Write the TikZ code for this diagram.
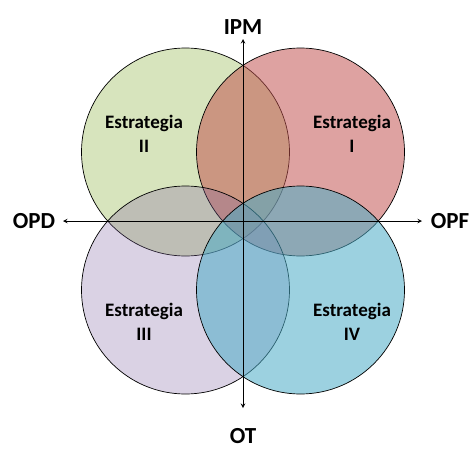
\documentclass[tikz,border=0pt]{standalone}
\usepackage{fontspec}
\setmainfont{Carlito}
\usetikzlibrary{calc,arrows}
\usepackage{xcolor}
\definecolor{verdeEst}{HTML}{9BBB59}
\definecolor{rojoEst}{HTML}{C0504D}
\definecolor{moradoEst}{HTML}{8064A2}
\definecolor{azulEst}{HTML}{4BACC6}
\tikzset{
	cuadrante/.style={draw=black, line width=0.7pt},
	eje/.style={line width=1pt},
	estrategia/.style={font=\fontsize{19}{24}\selectfont\bfseries, align=center},
	ejelabel/.style={font=\fontsize{23}{27}\selectfont\bfseries, inner sep=0.5pt}
}

\begin{document}
\begin{tikzpicture}[x=1pt,y=-1pt]
			\useasboundingbox (0,0) rectangle (472,450);
			\def\radio{104pt};
			\draw[cuadrante, fill=verdeEst, fill opacity=0.4] (185.5,152) circle [radius=\radio];
			\draw[cuadrante, fill=rojoEst, fill opacity=0.53] (300.5,152) circle [radius=\radio];
			\draw[cuadrante, fill=moradoEst, fill opacity=0.29] (185.5,290) circle [radius=\radio];
			\draw[cuadrante, fill=azulEst, fill opacity=0.55] (300.5,290) circle [radius=\radio];
			\coordinate (n) at (243,39);
			\coordinate (s) at (243,408);
			\coordinate (w) at (63,221);
			\coordinate (e) at (422,221);
			\draw[eje, stealth-stealth] (s) -- (n);
			\draw[eje, stealth-stealth] (w) -- (e);
			\node[ejelabel] (ipm) at (243,27) {IPM};
			\node[ejelabel] (ot) at (243,436) {OT};
			\node[ejelabel] (opd) at (34,221) {OPD};
			\node[ejelabel] (opf) at (450,221) {OPF};
			\node[estrategia] (estI) at (352,134) {Estrategia\\I};
			\node[estrategia] (estII) at (144,134) {Estrategia\\II};
			\node[estrategia] (estIII) at (144,322) {Estrategia\\III};
			\node[estrategia] (estIV) at (352,322) {Estrategia\\IV};
\end{tikzpicture}
\end{document}
